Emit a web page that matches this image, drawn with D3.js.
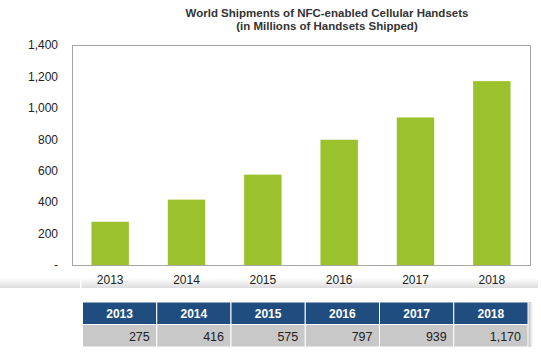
<!DOCTYPE html>
<html>
  <head>
    <style>
      body,
      html {
        margin: 0;
        padding: 0;
        background: #fff;
      }
      svg {
        display: block;
        font-family: 'Liberation Sans', Arial, sans-serif;
      }
    </style>
  </head>
  <body>
    <svg id="svg" width="541" height="354"></svg>

    <script src="https://cdn.jsdelivr.net/npm/d3@7"></script>
    <script>
      const years = ['2013', '2014', '2015', '2016', '2017', '2018'];
      const shipments = [275, 416, 575, 797, 939, 1170];
      const yTicks = [0, 200, 400, 600, 800, 1000, 1200, 1400];
      const titleLines = [
        'World Shipments of NFC-enabled  Cellular Handsets',
        '(in Millions of Handsets  Shipped)'
      ];

      const margin = { top: 45, right: 11, bottom: 89, left: 72 };
      const width = 541 - margin.left - margin.right;
      const height = 354 - margin.top - margin.bottom;

      const svg = d3.select('#svg');
      const fmt = d3.format(',');

      const xScale = d3
        .scaleBand()
        .domain(years)
        .range([margin.left, margin.left + width])
        .paddingInner(0.51)
        .paddingOuter(0.255);

      const yScale = d3
        .scaleLinear()
        .domain([0, 1400])
        .range([margin.top + height, margin.top]);

      // title
      svg
        .append('g')
        .selectAll('text')
        .data(titleLines)
        .enter()
        .append('text')
        .attr('x', 327)
        .attr('y', (d, i) => 17 + i * 13)
        .attr('text-anchor', 'middle')
        .attr('font-size', 11.5)
        .attr('font-weight', 'bold')
        .attr('fill', '#333')
        .text((d) => d);

      // soft band behind the year labels
      const defs = svg.append('defs');
      const grad = defs
        .append('linearGradient')
        .attr('id', 'band')
        .attr('x1', 0)
        .attr('y1', 0)
        .attr('x2', 0)
        .attr('y2', 1);
      grad.append('stop').attr('offset', '0%').attr('stop-color', '#fff');
      grad.append('stop').attr('offset', '100%').attr('stop-color', '#dcdcdc');
      const shade = defs
        .append('linearGradient')
        .attr('id', 'edge')
        .attr('x1', 0)
        .attr('y1', 0)
        .attr('x2', 1)
        .attr('y2', 0);
      shade.append('stop').attr('offset', '0%').attr('stop-color', '#bbb');
      shade.append('stop').attr('offset', '100%').attr('stop-color', '#fff');

      svg
        .append('rect')
        .attr('x', 0)
        .attr('y', 278)
        .attr('width', 538)
        .attr('height', 10)
        .attr('fill', 'url(#band)');
      svg
        .append('rect')
        .attr('x', 80)
        .attr('y', 278)
        .attr('width', 1.5)
        .attr('height', 10)
        .attr('fill', '#fff');

      // plot frame
      svg
        .append('rect')
        .attr('x', margin.left + 0.5)
        .attr('y', margin.top + 0.5)
        .attr('width', width)
        .attr('height', height)
        .attr('fill', '#fff')
        .attr('stroke', '#a6a6a6')
        .attr('stroke-width', 1);

      // y axis labels
      const leftAxis = d3
        .axisLeft(yScale)
        .tickValues(yTicks)
        .tickSize(0)
        .tickPadding(14)
        .tickFormat((d) => (d === 0 ? '-' : fmt(d)));

      const yAxis = svg
        .append('g')
        .attr('transform', `translate(${margin.left}, 0)`)
        .call(leftAxis);
      yAxis.select('.domain').remove();
      yAxis
        .selectAll('text')
        .attr('font-size', 12)
        .attr('font-family', "'Liberation Sans', Arial, sans-serif")
        .attr('fill', '#222');

      // bars
      svg
        .append('g')
        .selectAll('rect')
        .data(shipments)
        .enter()
        .append('rect')
        .attr('x', (d, i) => xScale(years[i]))
        .attr('y', (d) => yScale(d))
        .attr('width', xScale.bandwidth())
        .attr('height', (d) => yScale(0) - yScale(d))
        .attr('fill', '#9bc22c');

      // x axis labels
      const bottomAxis = d3.axisBottom(xScale).tickSize(0).tickPadding(10);
      const xAxis = svg
        .append('g')
        .attr('transform', `translate(0, ${margin.top + height})`)
        .call(bottomAxis);
      xAxis.select('.domain').remove();
      xAxis
        .selectAll('text')
        .attr('font-size', 12)
        .attr('font-family', "'Liberation Sans', Arial, sans-serif")
        .attr('fill', '#222');

      // data table
      const tableX = d3
        .scaleBand()
        .domain(years)
        .range([82.5, 528]);
      const headTop = 302;
      const rowH = 22.5;

      svg
        .append('rect')
        .attr('x', 528)
        .attr('y', headTop)
        .attr('width', 5)
        .attr('height', rowH * 2)
        .attr('fill', 'url(#edge)');

      const cells = svg
        .append('g')
        .selectAll('g')
        .data(years)
        .enter()
        .append('g');

      cells
        .append('rect')
        .attr('x', (d) => tableX(d))
        .attr('y', headTop)
        .attr('width', tableX.bandwidth())
        .attr('height', rowH)
        .attr('fill', '#1f4d80')
        .attr('stroke', '#fff')
        .attr('stroke-width', 1);

      cells
        .append('rect')
        .attr('x', (d) => tableX(d))
        .attr('y', headTop + rowH)
        .attr('width', tableX.bandwidth())
        .attr('height', rowH)
        .attr('fill', '#c8c8c8')
        .attr('stroke', '#fff')
        .attr('stroke-width', 1);

      cells
        .append('text')
        .attr('x', (d) => tableX(d) + tableX.bandwidth() / 2)
        .attr('y', headTop + 15.5)
        .attr('text-anchor', 'middle')
        .attr('font-size', 12)
        .attr('font-weight', 'bold')
        .attr('fill', '#fff')
        .text((d) => d);

      cells
        .append('text')
        .attr('x', (d) => tableX(d) + tableX.bandwidth() - 7)
        .attr('y', headTop + rowH + 16)
        .attr('text-anchor', 'end')
        .attr('font-size', 12.5)
        .attr('fill', '#222')
        .text((d, i) => fmt(shipments[i]));
    </script>
  </body>
</html>
